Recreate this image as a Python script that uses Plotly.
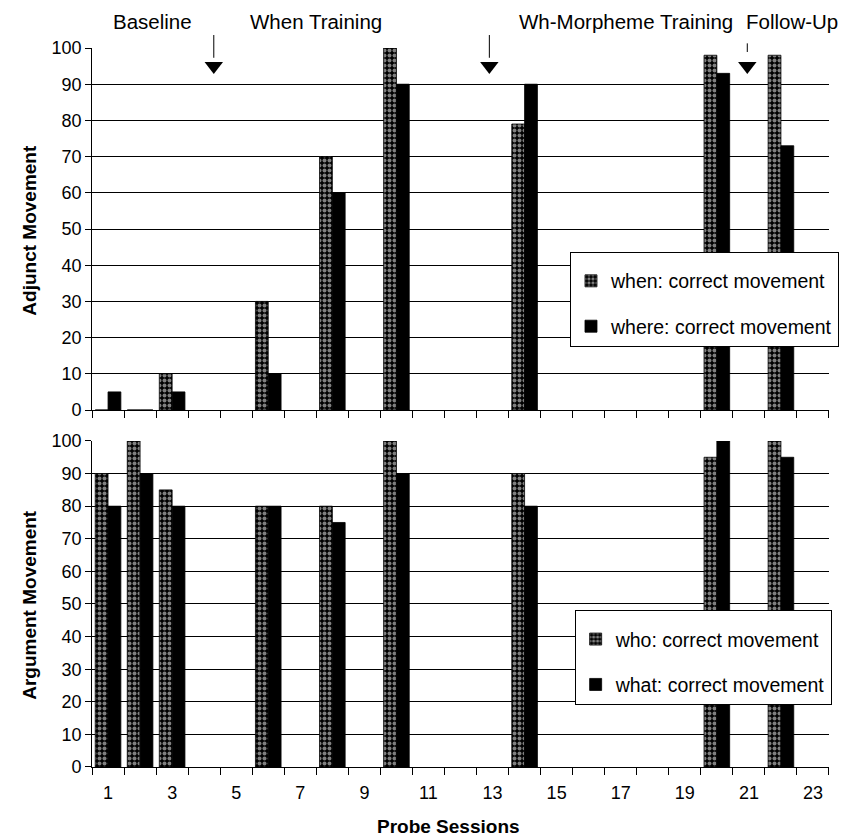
import plotly.graph_objects as go

sessions = [1, 2, 3, 6, 8, 10, 14, 20, 22]
when_correct = [0, 0, 10, 30, 70, 100, 79, 98, 98]
where_correct = [5, 0, 5, 10, 60, 90, 90, 93, 73]
who_correct = [90, 100, 85, 80, 80, 100, 90, 95, 100]
what_correct = [80, 90, 80, 80, 75, 90, 80, 100, 95]

x_tick_vals = list(range(1, 24, 2))
y_tick_vals = list(range(0, 101, 10))

phase_labels = ["Baseline", "When Training", "Wh-Morpheme Training", "Follow-Up"]
phase_label_x = [2.4, 7.49, 17.16, 22.35]
arrow_x = [4.3, 12.9, 20.95]
arrow_line_top = [104, 104, 101.7]
arrow_line_bottom = [97.3, 97.3, 98.9]
arrow_tri_y = [95, 95, 95]

FONT = "Liberation Sans, Arial, sans-serif"
pattern = dict(shape=".", fgcolor="white", bgcolor="black", size=5, solidity=0.5)

fig = go.Figure()

fig.add_trace(go.Bar(x=sessions, y=when_correct, name="when: correct movement",
                     marker=dict(color="black", pattern=pattern, line=dict(color="black", width=0.8)),
                     xaxis="x", yaxis="y", legend="legend", legendgroup="a"))
fig.add_trace(go.Bar(x=sessions, y=where_correct, name="where: correct movement",
                     marker=dict(color="black", line=dict(color="black", width=0.8)),
                     xaxis="x", yaxis="y", legend="legend", legendgroup="b"))
fig.add_trace(go.Bar(x=sessions, y=who_correct, name="who: correct movement",
                     marker=dict(color="black", pattern=pattern, line=dict(color="black", width=0.8)),
                     xaxis="x2", yaxis="y2", legend="legend2", legendgroup="c"))
fig.add_trace(go.Bar(x=sessions, y=what_correct, name="what: correct movement",
                     marker=dict(color="black", line=dict(color="black", width=0.8)),
                     xaxis="x2", yaxis="y2", legend="legend2", legendgroup="d"))

fig.add_trace(go.Scatter(x=arrow_x, y=arrow_tri_y, mode="markers",
                         marker=dict(symbol="triangle-down", size=16, color="black"),
                         cliponaxis=False, showlegend=False, xaxis="x", yaxis="y", hoverinfo="skip"))

for xa, yt, yb in zip(arrow_x, arrow_line_top, arrow_line_bottom):
    fig.add_annotation(x=xa, y=yb, ax=xa, ay=yt, xref="x", yref="y", axref="x", ayref="y",
                       text="", showarrow=True, arrowhead=0, arrowwidth=1, arrowcolor="black")

for lab, lx in zip(phase_labels, phase_label_x):
    fig.add_annotation(x=lx, y=0.9833, xref="x", yref="paper", text=lab, showarrow=False,
                       yanchor="middle", font=dict(family=FONT, size=20.5, color="black"))

fig.add_annotation(x=0.026, y=0.734, xref="paper", yref="paper", text="<b>Adjunct Movement</b>",
                   textangle=-90, showarrow=False, xanchor="center", yanchor="middle",
                   font=dict(family=FONT, size=19, color="black"))
fig.add_annotation(x=0.026, y=0.287, xref="paper", yref="paper", text="<b>Argument Movement</b>",
                   textangle=-90, showarrow=False, xanchor="center", yanchor="middle",
                   font=dict(family=FONT, size=19, color="black"))
fig.add_annotation(x=0.52, y=0.0227, xref="paper", yref="paper", text="<b>Probe Sessions</b>",
                   showarrow=False, yanchor="middle", font=dict(family=FONT, size=19, color="black"))

xcommon = dict(range=[0.5, 23.5], domain=[0.0992, 0.9693], showgrid=False, zeroline=False,
               showline=True, linecolor="black", linewidth=1, tickmode="array",
               tickvals=x_tick_vals, ticks="", ticklabelstandoff=9, automargin=False,
               tickfont=dict(family=FONT, size=18, color="black"),
               minor=dict(tick0=0.5, dtick=1, ticks="outside", ticklen=7, tickcolor="black",
                          showgrid=False))
ycommon = dict(range=[0, 100], showgrid=True, gridcolor="black", gridwidth=1, zeroline=False,
               showline=True, linecolor="black", linewidth=1, tickmode="array",
               tickvals=y_tick_vals, ticks="outside", ticklen=6, tickcolor="black",
               automargin=False, tickfont=dict(family=FONT, size=18, color="black"))

legend_common = dict(xanchor="left", yanchor="top", bgcolor="white",
                     bordercolor="black", borderwidth=1, traceorder="grouped", tracegroupgap=17,
                     title=dict(text=" ", font=dict(family=FONT, size=7)),
                     font=dict(family=FONT, size=19.5, color="black"))

fig.update_layout(
    width=847, height=837,
    margin=dict(l=0, r=0, t=0, b=0),
    paper_bgcolor="white", plot_bgcolor="white",
    barmode="group", bargap=0.2, bargroupgap=0,
    xaxis=dict(**xcommon, anchor="y", showticklabels=False),
    yaxis=dict(**ycommon, domain=[0.5197, 0.9522], anchor="x"),
    xaxis2=dict(**xcommon, anchor="y2"),
    yaxis2=dict(**ycommon, domain=[0.0932, 0.4827], anchor="x2"),
    legend=dict(x=0.6635, y=0.709, **legend_common),
    legend2=dict(x=0.669, y=0.281, **legend_common),
    showlegend=True,
)

fig.write_html("out.html")
